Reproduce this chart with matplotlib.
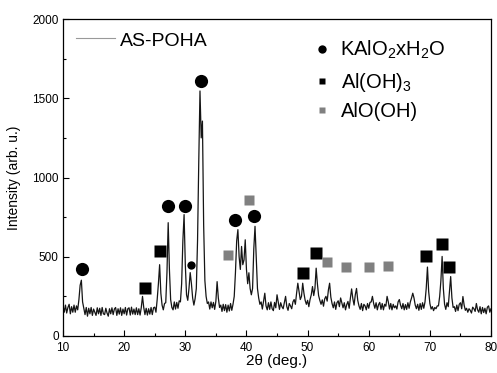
import numpy as np
import matplotlib
matplotlib.use("Agg")
import matplotlib.pyplot as plt
from matplotlib.ticker import MultipleLocator

plt.rcParams['font.family'] = ['Liberation Sans', 'DejaVu Sans']
plt.rcParams['mathtext.fontset'] = 'custom'
plt.rcParams['mathtext.rm'] = 'Liberation Sans'
plt.rcParams['mathtext.it'] = 'Liberation Sans:italic'

# XRD pattern sampled every 0.2 deg from 10 to 80
two_theta_start = 10.0
two_theta_step = 0.2
intensity = [
    190,150,195,145,180,200,140,185,150,195,
    150,190,165,230,320,352,215,175,135,180,
    125,175,140,180,130,170,150,130,178,140,
    175,130,180,140,135,175,145,125,172,140,
    178,135,170,180,130,172,138,178,130,170,
    140,180,132,172,178,132,182,138,170,135,
    178,135,172,132,180,250,180,135,175,132,
    172,138,180,135,178,182,150,230,330,450,
    270,195,165,205,210,400,715,420,230,180,
    165,215,170,212,175,222,215,330,600,766,
    450,260,225,300,400,330,240,195,235,300,
    600,1100,1546,1250,1356,700,350,250,205,215,
    170,215,178,212,168,220,343,240,180,195,
    155,200,160,198,150,195,158,205,162,200,
    250,400,600,671,500,420,565,450,480,607,
    420,330,399,300,260,300,550,692,500,300,
    240,200,215,170,222,270,190,165,210,168,
    215,172,160,212,178,260,215,168,210,185,
    172,212,250,185,162,205,190,172,215,230,
    200,270,333,280,230,250,333,270,225,200,
    225,185,230,260,312,255,300,428,330,255,
    225,200,228,188,235,250,220,290,333,245,
    205,178,215,168,210,222,185,240,210,178,
    210,165,198,218,175,240,297,235,195,260,
    300,225,190,168,205,160,200,190,165,205,
    175,212,215,250,205,175,210,165,198,212,
    168,205,165,200,188,250,215,170,205,165,
    200,178,190,170,215,230,195,172,205,165,
    198,168,210,175,215,240,270,240,195,172,
    200,162,205,168,210,175,215,300,435,280,
    205,170,185,160,180,172,190,190,250,350,
    502,300,200,168,210,185,280,375,240,180,
    185,155,195,160,200,210,172,249,195,162,
    175,150,172,162,145,182,172,155,205,165,
    150,185,140,180,148,175,140,182,190,150,
    172,
]
two_theta = two_theta_start + two_theta_step * np.arange(len(intensity))

# Phase markers
kalo2_x = [13.05, 27.1, 30.0, 32.5, 38.2, 41.25]
kalo2_y = [425, 818, 818, 1612, 730, 755]
kalo2_small_x = [30.9]
kalo2_small_y = [447]
aloh3_x = [23.4, 25.8, 49.2, 51.4, 69.4, 71.9, 73.2]
aloh3_y = [305, 534, 400, 522, 505, 580, 438]
alooh_x = [36.9, 40.4, 53.1, 56.2, 60.0, 63.1]
alooh_y = [508, 856, 468, 434, 438, 441]

series_label = 'AS-POHA'
phase_labels = [r'KAlO$_\mathregular{2}$xH$_\mathregular{2}$O',
                r'Al(OH)$_\mathregular{3}$',
                'AlO(OH)']

fig = plt.figure(figsize=(4.97, 3.73), dpi=100)
ax = fig.add_axes([0.1268, 0.0992, 0.8612, 0.8498])

ax.plot(two_theta, intensity, color='#151515', lw=0.9)
ax.plot(kalo2_x, kalo2_y, 'o', color='black', ms=9.5, mec='none')
ax.plot(kalo2_small_x, kalo2_small_y, 'o', color='black', ms=6, mec='none')
ax.plot(aloh3_x, aloh3_y, 's', color='black', ms=8.3, mec='none')
ax.plot(alooh_x, alooh_y, 's', color='#808080', ms=6.5, mec='none')

ax.set_xlim(10, 80)
ax.set_ylim(0, 2000)
ax.xaxis.set_major_locator(MultipleLocator(10))
ax.xaxis.set_minor_locator(MultipleLocator(5))
ax.yaxis.set_major_locator(MultipleLocator(500))
ax.yaxis.set_minor_locator(MultipleLocator(250))
ax.tick_params(which='both', direction='in', labelsize=8.5, width=0.8)
ax.tick_params(axis='x', pad=4.5)
ax.tick_params(axis='y', pad=3)
ax.tick_params(which='major', length=4.5)
ax.tick_params(which='minor', length=2.5)
for s in ax.spines.values():
    s.set_linewidth(0.9)

ax.set_xlabel('2\u03b8 (deg.)', fontsize=11, labelpad=0)
ax.set_ylabel('Intensity (arb. u.)', fontsize=10, labelpad=8)

# Legend for the pattern (key line + label)
T = ax.transAxes
ax.plot([0.0304, 0.1215], [0.939, 0.939], color='#999999', lw=0.8, transform=T)
ax.text(0.1332, 0.9158, series_label, transform=T, fontsize=14,
        va='baseline', ha='left')

# Legend for the phase markers
ax.plot([0.6044], [0.9054], 'o', color='black', ms=6, mec='none', transform=T)
ax.plot([0.6051], [0.8044], 's', color='black', ms=5, mec='none', transform=T)
ax.plot([0.6051], [0.7129], 's', color='#808080', ms=4.5, mec='none', transform=T)
ax.text(0.647, 0.8842, phase_labels[0], transform=T, fontsize=14.5, va='baseline')
ax.text(0.649, 0.7823, phase_labels[1], transform=T, fontsize=14.5, va='baseline')
ax.text(0.649, 0.6918, phase_labels[2], transform=T, fontsize=14.5, va='baseline')

fig.savefig('out.png', dpi=100)
